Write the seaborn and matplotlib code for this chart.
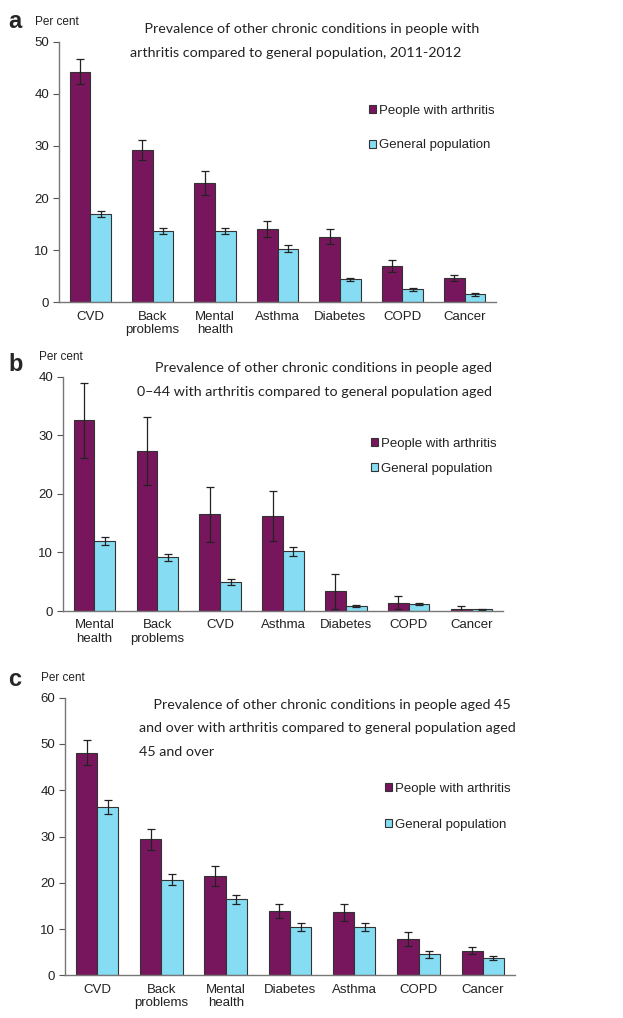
import seaborn as sns
import matplotlib.pyplot as plt
import pandas as pd

# panel a - all ages
cats_a = ["CVD", "Back\nproblems", "Mental\nhealth", "Asthma", "Diabetes", "COPD", "Cancer"]
arth_a = [44.2, 29.2, 22.9, 14.1, 12.6, 7.0, 4.7]
arth_err_a = [2.4, 1.9, 2.3, 1.5, 1.5, 1.2, 0.6]
gen_a = [16.9, 13.7, 13.7, 10.3, 4.4, 2.5, 1.5]
gen_err_a = [0.6, 0.5, 0.6, 0.6, 0.3, 0.3, 0.2]

# panel b - aged 0-44
cats_b = ["Mental\nhealth", "Back\nproblems", "CVD", "Asthma", "Diabetes", "COPD", "Cancer"]
arth_b = [32.6, 27.3, 16.5, 16.2, 3.4, 1.4, 0.3]
arth_err_b = [6.4, 5.8, 4.7, 4.3, 3.0, 1.1, 0.5]
gen_b = [11.9, 9.2, 4.9, 10.2, 0.85, 1.2, 0.3]
gen_err_b = [0.7, 0.6, 0.5, 0.8, 0.15, 0.15, 0.1]

# panel c - aged 45 and over
cats_c = ["CVD", "Back\nproblems", "Mental\nhealth", "Diabetes", "Asthma", "COPD", "Cancer"]
arth_c = [48.1, 29.4, 21.5, 13.9, 13.6, 7.8, 5.3]
arth_err_c = [2.7, 2.3, 2.1, 1.5, 1.8, 1.5, 0.8]
gen_c = [36.3, 20.7, 16.4, 10.4, 10.4, 4.5, 3.7]
gen_err_c = [1.5, 1.2, 1.0, 0.8, 0.8, 0.7, 0.5]

groups = ["People with arthritis", "General population"]
purple = "#78165D"
blue = "#86DDF3"

titles = [
    "    Prevalence of other chronic conditions in people with\narthritis compared to general population, 2011-2012",
    "Prevalence of other chronic conditions in people aged\n0\u201344 with arthritis compared to general population aged",
    "    Prevalence of other chronic conditions in people aged 45\nand over with arthritis compared to general population aged\n45 and over",
]

W, H = 623, 1018
fig = plt.figure(figsize=(W / 100, H / 100), dpi=100)
sns.set_style("white")

tick_font = ["Liberation Sans", "DejaVu Sans"]
title_font = ["Lato", "DejaVu Sans"]


def px(x, y):
    return x / W, 1 - y / H


def panel(rect, cats, arth, arth_err, gen, gen_err, ymax, letter, letter_y,
          title, title_xy, title_align, leg_xy, leg_space):
    l, t, r, b = rect
    ax = fig.add_axes([l / W, 1 - b / H, (r - l) / W, (b - t) / H])
    df = pd.DataFrame({
        "cat": cats * 2,
        "val": arth + gen,
        "err": arth_err + gen_err,
        "group": [groups[0]] * len(cats) + [groups[1]] * len(cats),
    })
    sns.barplot(data=df, x="cat", y="val", hue="group", ax=ax, order=cats,
                hue_order=groups, palette=[purple, blue], width=0.66,
                errorbar=None, edgecolor="#333333", linewidth=0.8, saturation=1)
    # error bars on top of each bar
    for cont, g in zip(ax.containers, groups):
        sub = df[df.group == g]
        xs = [p.get_x() + p.get_width() / 2 for p in cont.patches]
        ax.errorbar(xs, sub["val"].values, yerr=sub["err"].values, fmt="none",
                    ecolor="#222222", elinewidth=0.9, capsize=2.8, capthick=0.9)
    ax.set_ylim(0, ymax)
    ax.set_xlim(-0.5, len(cats) - 0.5)
    ax.set_yticks(range(0, ymax + 1, 10))
    ax.set_xlabel("")
    ax.set_ylabel("")
    sns.despine(ax=ax)
    for s in ["left", "bottom"]:
        ax.spines[s].set_color("#777777")
        ax.spines[s].set_linewidth(1.0)
    ax.tick_params(axis="y", left=True, length=4, width=0.8, color="#555555",
                   labelsize=9.5, pad=3)
    ax.tick_params(axis="x", length=0, labelsize=9.5, pad=6)
    for lab in ax.get_xticklabels() + ax.get_yticklabels():
        lab.set_family(tick_font)
        lab.set_color("#222222")
    leg = ax.legend(frameon=False, loc="upper left",
                    bbox_to_anchor=px(*leg_xy), bbox_transform=fig.transFigure,
                    handlelength=0.55, handleheight=0.55, handletextpad=0.25,
                    labelspacing=leg_space,
                    prop={"family": tick_font, "size": 9.5})
    for tx in leg.get_texts():
        tx.set_color("#222222")
    fig.text(*px(8, letter_y), letter, fontsize=17, fontweight="bold",
             family=tick_font, va="center", ha="left")
    fig.text(*px(l - 24, t - 20), "Per cent", fontsize=8.5, family=tick_font,
             va="center", ha="left", color="#222222")
    fig.text(*px(*title_xy), title, fontsize=10.3, family=title_font,
             va="top", ha="left" if title_align == "left" else "right",
             multialignment=title_align, linespacing=2.15, color="#222222")
    return ax


panel((59, 41.7, 496, 302.3), cats_a, arth_a, arth_err_a, gen_a, gen_err_a, 50,
      "a", 21, titles[0], (130, 23), "left", (357, 93), 1.7)
panel((63, 376.7, 503, 611), cats_b, arth_b, arth_err_b, gen_b, gen_err_b, 40,
      "b", 364, titles[1], (492, 362), "right", (359, 426), 1.0)
panel((65, 697.7, 515, 975.3), cats_c, arth_c, arth_err_c, gen_c, gen_err_c, 60,
      "c", 679, titles[2], (139, 699), "left", (373, 771), 1.8)

plt.savefig("out.png", dpi=100)
